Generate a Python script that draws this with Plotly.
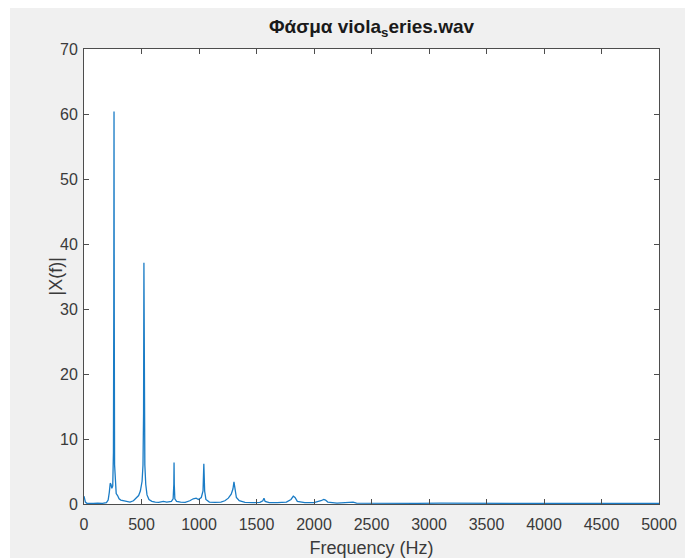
import plotly.graph_objects as go

# Magnitude spectrum samples (Hz, |X(f)|)
freq_hz = [
    0, 5, 12, 25, 50, 80, 120, 160, 195, 210, 220, 228, 235, 242, 250, 256, 259, 261, 263, 266,
    272, 280, 292, 305, 320, 345, 370, 400, 430, 455, 475, 490, 505, 513, 518, 521, 524, 529, 537,
    548, 565, 590, 620, 650, 690, 720, 760, 775, 781, 783, 785, 790, 805, 840, 880, 920, 950, 975,
    995, 1020, 1035, 1042, 1049, 1060, 1090, 1140, 1190, 1225, 1255, 1280, 1295, 1304, 1312, 1325,
    1350, 1400, 1470, 1530, 1555, 1565, 1575, 1610, 1680, 1760, 1800, 1820, 1835, 1855, 1920, 2000,
    2060, 2085, 2100, 2120, 2200, 2340, 2370, 2500, 2700, 2900, 3100, 3300, 3600, 3900, 4200, 4500,
    4800, 5000,
]
magnitude = [
    1.2, 0.9, 0.3, 0.1, 0.15, 0.1, 0.15, 0.1, 0.2, 0.6, 1.8, 3.2, 3.0, 2.4, 2.8, 8, 30, 60.4, 30, 6,
    2.5, 1.6, 1.3, 0.8, 0.6, 0.5, 0.4, 0.3, 0.5, 0.9, 1.3, 2.0, 3.5, 6, 14, 37.1, 14, 6, 3,
    1.4, 0.7, 0.4, 0.3, 0.25, 0.4, 0.3, 0.4, 0.8, 3, 6.4, 3, 0.8, 0.4, 0.3, 0.25, 0.5, 0.8, 0.9,
    0.7, 1.0, 2.0, 6.2, 2.0, 0.7, 0.3, 0.25, 0.3, 0.5, 0.9, 1.5, 2.3, 3.4, 2.2, 1.0,
    0.5, 0.25, 0.2, 0.25, 0.5, 0.9, 0.4, 0.2, 0.2, 0.3, 0.7, 1.2, 1.0, 0.4, 0.2, 0.2,
    0.5, 0.7, 0.6, 0.3, 0.15, 0.3, 0.15, 0.12, 0.15, 0.1, 0.12, 0.1, 0.12, 0.1, 0.1, 0.1,
    0.08, 0.1,
]

x_ticks = [0, 500, 1000, 1500, 2000, 2500, 3000, 3500, 4000, 4500, 5000]
y_ticks = [0, 10, 20, 30, 40, 50, 60, 70]

FONT = "Liberation Sans, Arial, Helvetica, sans-serif"
AXIS_GRAY = "#4d4d4d"
TEXT_GRAY = "#3a3a3a"

fig = go.Figure(
    go.Scatter(
        x=freq_hz,
        y=magnitude,
        mode="lines",
        line=dict(color="#1a7cc6", width=1.3),
        hoverinfo="x+y",
    )
)

axis_common = dict(
    showgrid=False,
    zeroline=False,
    showline=True,
    linecolor=AXIS_GRAY,
    linewidth=1,
    mirror="allticks",
    ticks="inside",
    ticklen=5,
    tickcolor=AXIS_GRAY,
    automargin=False,
    tickfont=dict(family=FONT, size=16, color=TEXT_GRAY),
)

fig.update_xaxes(
    range=[0, 5000],
    tickvals=x_ticks,
    ticktext=[str(v) for v in x_ticks],
    ticklabelstandoff=6,
    title=dict(text="Frequency (Hz)", font=dict(family=FONT, size=18, color=TEXT_GRAY)),
    **axis_common,
)
fig.update_yaxes(
    range=[0, 70],
    tickvals=y_ticks,
    ticktext=[str(v) for v in y_ticks],
    ticklabelstandoff=2,
    **axis_common,
)

# window frame: white strip along the top and left edges
frame_shapes = [
    dict(type="rect", xref="paper", yref="paper",
         x0=-84 / 575, x1=(10 - 84) / 575, y0=-54 / 455, y1=1 + 49 / 455,
         fillcolor="white", line=dict(width=0), layer="below"),
    dict(type="rect", xref="paper", yref="paper",
         x0=-84 / 575, x1=1 + 26 / 575, y0=1 + 41 / 455, y1=1 + 49 / 455,
         fillcolor="white", line=dict(width=0), layer="below"),
]

# y-axis label placed closer to the tick labels
y_label = dict(
    text="|X(f)|",
    xref="paper", yref="paper",
    x=(55 - 84) / 575, y=0.5,
    xanchor="center", yanchor="middle",
    textangle=-90,
    showarrow=False,
    font=dict(family=FONT, size=18, color=TEXT_GRAY),
)

fig.update_layout(
    width=685,
    height=558,
    margin=dict(l=84, r=26, t=49, b=54),
    paper_bgcolor="#f0f0f0",
    plot_bgcolor="white",
    showlegend=False,
    shapes=frame_shapes,
    annotations=[y_label],
    title=dict(
        text="<b>Φάσμα viola<sub>s</sub>eries.wav</b>",
        x=(84 + 575 / 2) / 685,
        xanchor="center",
        y=1 - 26 / 558,
        yanchor="middle",
        font=dict(family=FONT, size=19, color="#1a1a1a"),
    ),
)

fig.write_html("out.html")
